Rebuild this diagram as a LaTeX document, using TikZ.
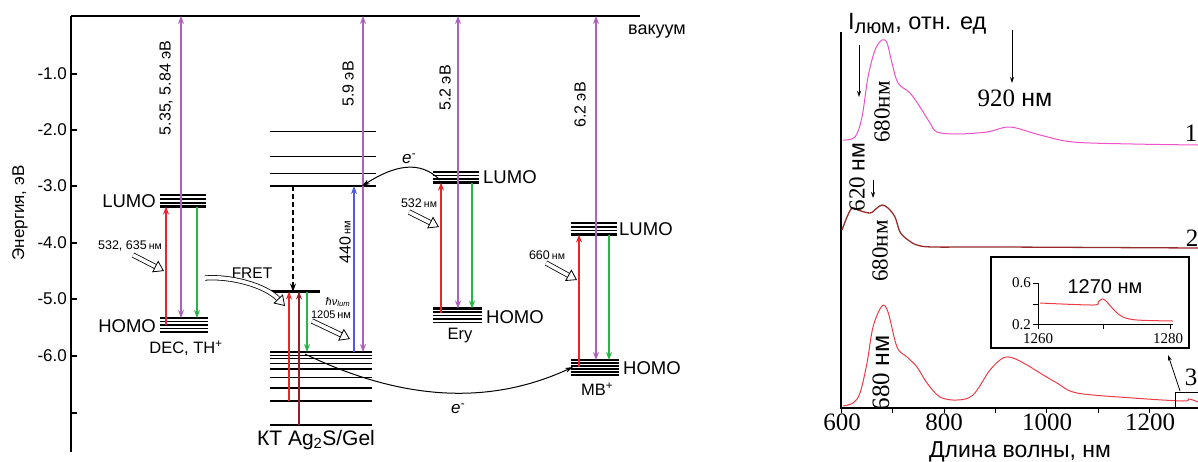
\documentclass[tikz,border=0pt]{standalone}
\usepackage{fontspec}
\setmainfont{Liberation Sans}
\newfontfamily\timesf{Liberation Serif}
\usepackage{xcolor}
\usepackage{tikz}
\usetikzlibrary{arrows.meta, positioning, calc}

\definecolor{exred}{RGB}{235,35,45}
\definecolor{exdark}{RGB}{150,30,40}
\definecolor{exgreen}{RGB}{40,180,70}
\definecolor{exblue}{RGB}{80,90,220}
\definecolor{expurple}{RGB}{175,95,190}
\definecolor{spone}{RGB}{240,80,200}
\definecolor{sptwo}{RGB}{150,45,45}
\definecolor{spthree}{RGB}{235,60,70}

\begin{document}
\begin{tikzpicture}[
        x=1pt, y=-1pt,
        lev/.style={line width=1.1pt},
        levb/.style={line width=2.4pt},
        band/.style={line width=1.8pt},
        arr/.style={-{Stealth[length=8pt, width=6pt]}, line width=1.1pt},
        darr/.style={{Stealth[length=8pt, width=6pt]}-{Stealth[length=8pt, width=6pt]}, line width=1.1pt},
        hollow/.style={double=white, double distance=3.6pt, line width=0.8pt,
            -{Triangle[open, length=10pt, width=13pt]}},
        lbl/.style={font=\fontsize{18.5}{18.5}\selectfont, inner sep=0pt},
        axnum/.style={font=\fontsize{17}{17}\selectfont, inner sep=0pt},
        rlbl/.style={font=\fontsize{16}{16}\selectfont, rotate=90, inner sep=0pt},
        molname/.style={font=\fontsize{16.5}{16.5}\selectfont, inner sep=0pt},
        nmlbl/.style={font=\fontsize{12.5}{12.5}\selectfont, inner sep=0pt},
        tnum/.style={font=\timesf\fontsize{25}{25}\selectfont, inner sep=0pt},
        pklbl/.style={font=\timesf\fontsize{23}{23}\selectfont, rotate=90, inner sep=0pt},
        insnum/.style={font=\timesf\fontsize{15}{15}\selectfont, inner sep=0pt},
        thin/.style={-{Stealth[length=6pt, width=4pt]}, line width=0.8pt}
    ]
    \useasboundingbox (0,0) rectangle (1198,461);

    % === Energy axis and vacuum level ===
    \draw[line width=1.6pt] (71,16) -- (640,16);
    \draw[line width=1.2pt] (71,16) -- (71,452);
    \draw[line width=1.2pt] (71,74) -- (77,74) (71,130) -- (77,130) (71,186) -- (77,186)
        (71,243) -- (77,243) (71,299) -- (77,299) (71,356) -- (77,356) (71,413) -- (77,413);
    \node[axnum, anchor=east] (t1) at (67,74) {-1.0};
    \node[axnum, anchor=east] (t2) at (67,130) {-2.0};
    \node[axnum, anchor=east] (t3) at (67,186) {-3.0};
    \node[axnum, anchor=east] (t4) at (67,243) {-4.0};
    \node[axnum, anchor=east] (t5) at (67,299) {-5.0};
    \node[axnum, anchor=east] (t6) at (67,356) {-6.0};
    \node[rlbl, font=\fontsize{17}{17}\selectfont] (ylab) at (20,213) {Энергия, эВ};
    \node[molname, font=\fontsize{18}{18}\selectfont, anchor=west] (vac) at (628,32) {вакуум};

    % === Level coordinates ===
    \coordinate (top) at (71,16);
    \coordinate (decL) at (160,206.5);
    \coordinate (decH) at (160,318);
    \coordinate (ktC) at (270,186);
    \coordinate (ktM) at (270,291.5);
    \coordinate (ktV) at (270,352);
    \coordinate (eryL) at (433,182.5);
    \coordinate (eryH) at (433,308.5);
    \coordinate (mbL) at (571,234.5);
    \coordinate (mbH) at (571,360);

    % === DEC, TH+ ===
    \draw[lev] (160,195) -- (206,195) (160,199) -- (206,199) (160,203) -- (206,203);
    \draw[levb] (decL) -- ++(46,0);
    \draw[levb] (decH) -- ++(48,0);
    \draw[lev] (160,321.5) -- (208,321.5) (160,325) -- (208,325) (160,328.5) -- (208,328.5) (160,332) -- (208,332);
    \node[lbl, anchor=east] (decLl) at (156,201) {LUMO};
    \node[lbl, anchor=east] (decHl) at (156,326) {HOMO};
    \node[molname] (dec) at (186,348) {DEC, TH\textsuperscript{+}};
    \draw[arr, exred] (166,325) -- (166,0 |- decL);
    \draw[darr, expurple] (181,0 |- decH) -- (181,0 |- top);
    \draw[arr, exgreen] (197,0 |- decL) -- (197,0 |- decH);
    \node[rlbl] (e1) at (166,88) {5.35, 5.84 эВ};
    \node[nmlbl] (l1) at (130,246) {532, 635\,{\fontsize{10.5}{10.5}\selectfont нм}};
    \draw[hollow] (133,255) -- (164,271);

    % === KT Ag2S/Gel ===
    \draw[band] (270,131.5) -- (376,131.5) (270,156.5) -- (376,156.5) (270,173.5) -- (376,173.5);
    \draw[levb] (ktC) -- ++(106,0);
    \draw[levb] (ktM) -- ++(50,0);
    \draw[levb] (ktV) -- ++(102,0);
    \draw[band] (270,355.5) -- (372,355.5) (270,358.5) -- (372,358.5) (270,363.5) -- (372,363.5)
        (270,369) -- (372,369) (270,377.5) -- (372,377.5) (270,388) -- (372,388)
        (270,401) -- (372,401) (270,425) -- (372,425);
    \draw[arr, dash pattern=on 5pt off 3pt] (293,0 |- ktC) -- (293,0 |- ktM);
    \draw[arr, exred] (289,401) -- (289,0 |- ktM);
    \draw[arr, exdark] (299,425) -- (299,0 |- ktM);
    \draw[arr, exgreen] (307,0 |- ktM) -- (307,0 |- ktV);
    \draw[arr, exblue] (354,0 |- ktV) -- (354,0 |- ktC);
    \draw[darr, expurple] (363,0 |- ktV) -- (363,0 |- top);
    \node[rlbl] (e2) at (348,84) {5.9 эВ};
    \node[rlbl] (l2) at (345,242) {440\,{\fontsize{11}{11}\selectfont нм}};
    \node[molname, font=\fontsize{15.5}{15.5}\selectfont] (fret) at (252,273) {FRET};
    \draw[hollow] (205,278) .. controls (230,276) and (265,285) .. (285,306);
    \node[nmlbl, font=\fontsize{11}{11}\selectfont] (hv) at (338,302) {\itshape ħν\textsubscript{lum}};
    \node[nmlbl, font=\fontsize{11}{11}\selectfont] (l3) at (331,315) {1205\,нм};
    \draw[hollow] (312,321) -- (350,339);
    \node[lbl, font=\fontsize{21}{21}\selectfont] (kt) at (316,440) {КТ Ag\textsubscript{2}S/Gel};

    % === Ery ===
    \draw[lev] (433,172) -- (479,172) (433,175.5) -- (479,175.5) (433,179) -- (479,179);
    \draw[levb] (eryL) -- ++(46,0);
    \draw[levb] (eryH) -- ++(49,0);
    \draw[lev] (433,312) -- (482,312) (433,315.5) -- (482,315.5) (433,319) -- (482,319) (433,322.5) -- (482,322.5);
    \node[lbl, anchor=west] (eryLl) at (483,177) {LUMO};
    \node[lbl, anchor=west] (eryHl) at (486,317) {HOMO};
    \node[molname] (ery) at (460,336) {Ery};
    \draw[arr, exred] (441,313) -- (441,0 |- eryL);
    \draw[darr, expurple] (458,0 |- eryH) -- (458,0 |- top);
    \draw[arr, exgreen] (472,0 |- eryL) -- (472,0 |- eryH);
    \node[rlbl] (e3) at (445,88) {5.2 эВ};
    \node[nmlbl] (l4) at (419,203) {532\,{\fontsize{10.5}{10.5}\selectfont нм}};
    \draw[hollow] (409,212) -- (439,227);

    % === MB+ ===
    \draw[lev] (571,223) -- (617,223) (571,227) -- (617,227) (571,230.5) -- (617,230.5);
    \draw[levb] (mbL) -- ++(46,0);
    \draw[levb] (mbH) -- ++(48,0);
    \draw[lev] (571,363) -- (619,363) (571,366) -- (619,366) (571,369) -- (619,369)
        (571,372) -- (619,372) (571,375) -- (619,375);
    \node[lbl, anchor=west] (mbLl) at (619,229) {LUMO};
    \node[lbl, anchor=west] (mbHl) at (623,368) {HOMO};
    \node[molname] (mb) at (597,389) {MB\textsuperscript{+}};
    \draw[arr, exred] (579,367) -- (579,0 |- mbL);
    \draw[darr, expurple] (596,0 |- mbH) -- (596,0 |- top);
    \draw[arr, exgreen] (609,0 |- mbL) -- (609,0 |- mbH);
    \node[rlbl] (e4) at (580,105) {6.2 эВ};
    \node[nmlbl] (l5) at (547,255) {660\,{\fontsize{10.5}{10.5}\selectfont нм}};
    \draw[hollow] (546,263) -- (577,280);

    % === Electron transfer ===
    \coordinate (et1) at (440,180);
    \coordinate (et2) at (362,186);
    \draw[-{Stealth[length=8pt, width=5pt]}, line width=1pt] (et1) .. controls (420,160) and (395,165) .. (et2);
    \node[molname, font=\itshape\fontsize{17}{17}\selectfont] (el1) at (409,159) {e\textsuperscript{-}};
    \coordinate (et3) at (305,354);
    \coordinate (et4) at (573,367);
    \draw[-{Stealth[length=8pt, width=5pt]}, line width=1pt] (et3) .. controls (390,395) and (480,410) .. (et4);
    \node[molname, font=\itshape\fontsize{17}{17}\selectfont] (el2) at (458,409) {e\textsuperscript{-}};

    % === Spectrum axes ===
    \draw[line width=1.2pt] (841,32) -- (841,408) -- (1198,408);
    \draw[line width=1pt] (841,408) -- (841,413) (892,408) -- (892,413) (944,408) -- (944,413)
        (995,408) -- (995,413) (1046,408) -- (1046,413) (1098,408) -- (1098,413) (1149,408) -- (1149,413);
    \node[tnum] (x1) at (842,422) {600};
    \node[tnum] (x2) at (944,422) {800};
    \node[tnum] (x3) at (1047,422) {1000};
    \node[tnum] (x4) at (1150,422) {1200};
    \node[lbl, font=\fontsize{23}{23}\selectfont, anchor=base] (xlab) at (1020,457) {Длина волны, нм};
    \node[lbl, font=\fontsize{23.5}{23.5}\selectfont, anchor=west] (ilab) at (848,24) {I\textsubscript{\fontsize{20}{20}\selectfont люм}, отн. ед};

    % === Spectra ===
    \draw[spone, line width=1pt] plot[smooth, tension=0.55] coordinates {(843,140) (855,137) (862,117) (868,77)
        (875,50) (882,40) (887,43) (892,63) (898,83) (910,93) (920,107) (930,123) (937,132) (957,134)
        (987,132) (1010,127) (1040,135) (1073,142) (1133,144) (1198,145)};
    \draw[sptwo, line width=1.3pt] plot[smooth, tension=0.55] coordinates {(842,230) (847,217) (852,208)
        (858,210) (870,213) (877,208) (882,205) (888,208) (895,217) (900,232) (908,240) (917,245)
        (933,247) (1000,247) (1198,248)};
    \draw[spthree, line width=1pt] plot[smooth, tension=0.55] coordinates {(843,406) (853,403) (860,393)
        (867,363) (873,327) (882,306) (888,312) (897,347) (907,357) (917,367) (927,383) (940,397)
        (957,400) (973,395) (990,370) (1003,358) (1013,358) (1027,365) (1040,373) (1057,383)
        (1077,393) (1133,398) (1183,401) (1189,399) (1198,402)};
    \node[tnum] (c1) at (1191,133) {1};
    \node[tnum] (c2) at (1192,238) {2};
    \node[tnum] (c3) at (1191,377) {3};

    % === Peak labels ===
    \node[pklbl] (p1) at (882,112) {680нм};
    \node[pklbl] (p2) at (857,177) {620 {\rmfamily нм}};
    \node[pklbl] (p3) at (880,251) {680нм};
    \node[pklbl, font=\timesf\fontsize{25}{25}\selectfont] (p4) at (881,373) {680 {\rmfamily нм}};
    \node[tnum] (p5) at (1015,98) {920 {\rmfamily нм}};
    \coordinate (a1) at (859,45);
    \coordinate (a2) at (1012,30);
    \coordinate (a3) at (873,180);
    \draw[thin] (a1) -- (859,97);
    \draw[thin] (a2) -- (1012,83);
    \draw[thin] (a3) -- (873,198);

    % === Inset ===
    \draw[line width=1.5pt] (991,257) rectangle (1189,348);
    \draw[line width=1pt] (1038,283) -- (1038,324) -- (1173,324);
    \draw[line width=1pt] (1033,283) -- (1038,283) (1033,304) -- (1038,304) (1033,324) -- (1038,324)
        (1038,324) -- (1038,329) (1103,324) -- (1103,329) (1170,324) -- (1170,329);
    \node[insnum, anchor=east] (i1) at (1031,283) {0.6};
    \node[insnum, anchor=east] (i2) at (1031,325) {0.2};
    \node[insnum] (i3) at (1038,339) {1260};
    \node[insnum] (i4) at (1168,339) {1280};
    \node[lbl, font=\fontsize{20}{20}\selectfont] (i5) at (1105,287) {1270 нм};
    \draw[spthree, line width=1pt] plot[smooth, tension=0.55] coordinates {(1040,303) (1093,305) (1098,302)
        (1102,299) (1106,301) (1115,311) (1123,317) (1137,320) (1173,321)};
    \draw[line width=1pt] (1175,392) rectangle (1201,407);
    \coordinate (zb) at (1180,391);
    \draw[thin] (zb) -- (1168,355);

\end{tikzpicture}
\end{document}
